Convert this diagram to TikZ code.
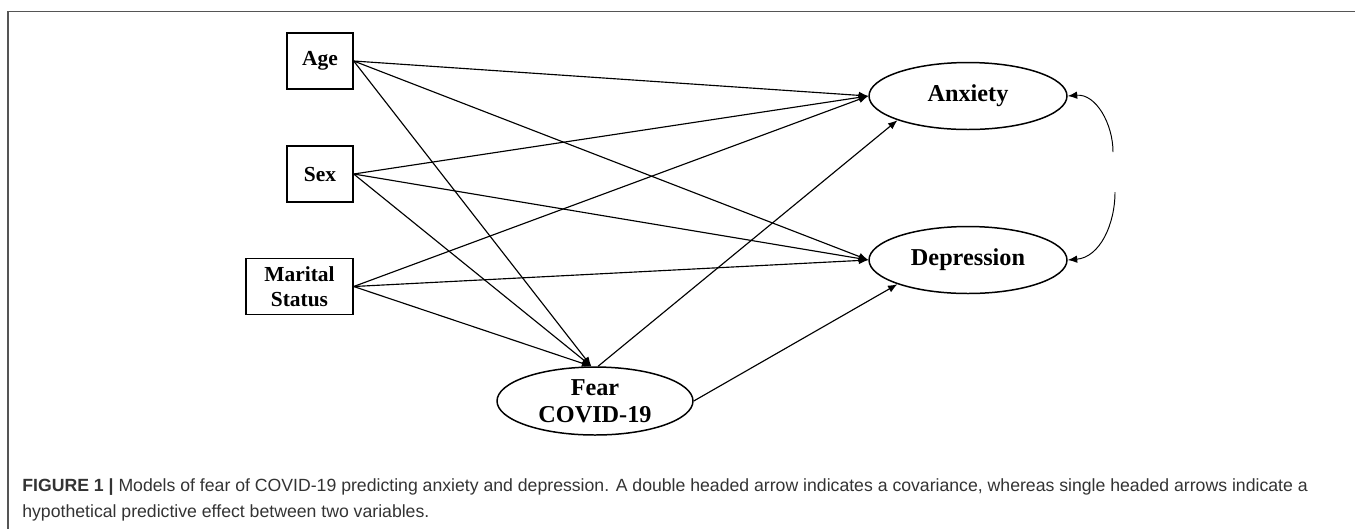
\documentclass[tikz,border=0pt]{standalone}
\usepackage{fontspec}
\setmainfont{Liberation Serif}
\newfontfamily\capfont{Liberation Sans}
\usetikzlibrary{arrows.meta,positioning,shapes.geometric}
\definecolor{framegray}{HTML}{555555}
\definecolor{captiongray}{HTML}{333333}

\begin{document}
\begin{tikzpicture}[x=0.02cm,y=-0.02cm,>={Latex[length=1.9mm,width=1.5mm]},
		obsbox/.style={draw,line width=.8pt,minimum height=1.12cm,align=center,inner sep=2pt,
			font=\bfseries\fontsize{12.2}{14.4}\selectfont},
		latent/.style={ellipse,draw,line width=.85pt,minimum width=3.96cm,minimum height=1.34cm,
			align=center,inner sep=1pt,font=\bfseries\fontsize{13.8}{15.6}\selectfont},
		effect/.style={->,line width=.65pt}]
	\useasboundingbox (0,0) rectangle (1355,529);
	\draw[framegray,line width=.8pt] (1355,11.7) -- (8,11.7) -- (8,529);
	% observed predictors
	\node[obsbox,minimum width=1.32cm] (age) at (320,61) {Age};
	\node[obsbox,minimum width=1.32cm] (sex) at (320,174) {Sex};
	\node[obsbox,minimum width=2.14cm] (marital) at (299.5,286.5) {Marital\\Status};
	% latent outcomes
	\node[latent] (anx) at (968,96) {Anxiety};
	\node[latent] (dep) at (968,260) {Depression};
	\node[latent,minimum width=3.92cm,minimum height=1.36cm] (fear) at (595,401) {Fear\\COVID-19};
	\foreach \src in {age,sex,marital}
	{\draw[effect] (\src.east) -- (anx.west);
		\draw[effect] (\src.east) -- (dep.west);
		\draw[effect] (\src.east) -- (fear.96);}
	\draw[effect] (fear.85) -- (anx.south west);
	\draw[effect] (fear.east) -- (dep.south west);
	% covariance
	\coordinate (cv1) at (1113,152);
	\coordinate (cv2) at (1115,192);
	\draw[<-,line width=.55pt] (anx.east) to[out=5,in=90] (cv1);
	\draw[->,line width=.55pt] (cv2) to[out=-90,in=5] (dep.east);
	\node[anchor=north west,align=left,inner sep=0pt,text=captiongray,
		font=\capfont\fontsize{10.05}{14.8}\selectfont] (caption) at (22,478)
	{\textbf{FIGURE 1 |} Models of fear of COVID-19 predicting anxiety and depression. A double headed arrow indicates a covariance, whereas single headed arrows indicate a\\
		hypothetical predictive effect between two variables.};
\end{tikzpicture}
\end{document}
